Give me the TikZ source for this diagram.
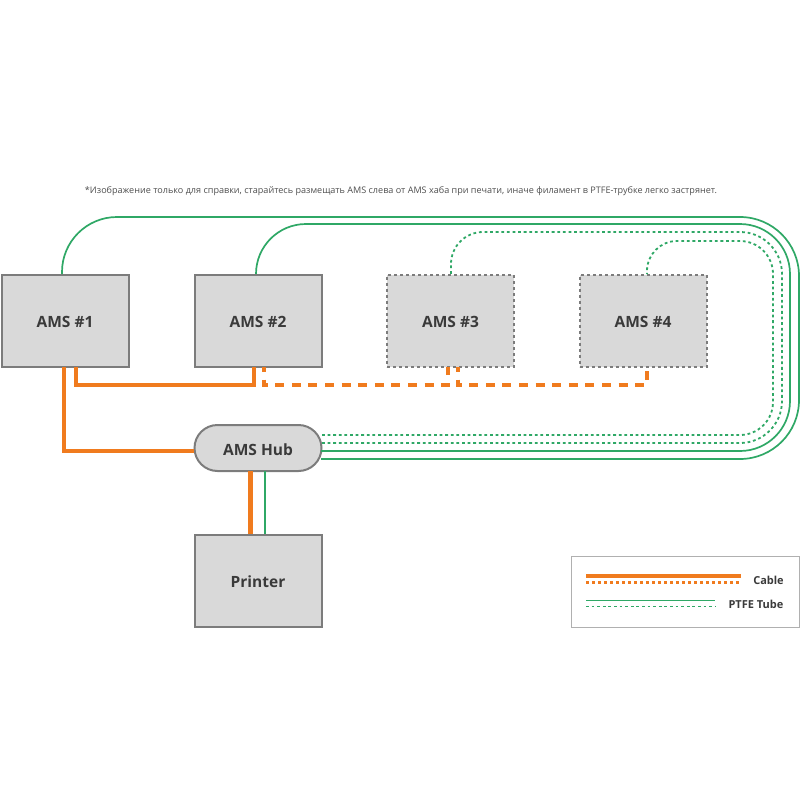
\documentclass[tikz,border=0pt]{standalone}
\usepackage{fontspec}
\setmainfont{Open Sans}
\definecolor{cableorange}{HTML}{F07B1E}
\definecolor{tubegreen}{HTML}{2FA866}
\definecolor{boxgray}{HTML}{D9D9D9}
\definecolor{edgegray}{HTML}{7C7C7C}
\definecolor{textgray}{HTML}{3A3A3A}
\tikzset{
  amsbox/.style={draw=edgegray, fill=boxgray, line width=2pt, minimum width=127pt, minimum height=92pt, inner sep=0pt, text=textgray, text height=14pt, text depth=0pt, font=\fontsize{15.5}{18}\selectfont\bfseries},
  amsdash/.style={amsbox, dash pattern=on 3pt off 3pt},
  cable/.style={draw=cableorange, line width=4.6pt},
  cabledash/.style={cable, dash pattern=on 9pt off 7.6pt, dash phase=4pt},
  tube/.style={draw=tubegreen, line width=1.7pt},
  tubedash/.style={tube, line width=1.8pt, dash pattern=on 2.8pt off 2.8pt},
  legendtext/.style={text=textgray, font=\fontsize{11}{13}\selectfont\bfseries, inner sep=0pt}
}
\begin{document}
\begin{tikzpicture}[x=1pt, y=-1pt]
  \useasboundingbox (0,0) rectangle (800,800);

  \node[text=textgray!90, font=\fontsize{9.07}{11}\selectfont, inner sep=0pt] (note) at (401,191) {*Изображение только для справки, старайтесь размещать AMS слева от AMS хаба при печати, иначе филамент в PTFE-трубке легко застрянет.};

  \node[amsbox] (ams1) at (65,320.5) {AMS \#1};
  \node[amsbox] (ams2) at (258,320.5) {AMS \#2};
  \node[amsdash] (ams3) at (450.5,320.5) {AMS \#3};
  \node[amsdash] (ams4) at (643,320.5) {AMS \#4};
  \node[amsbox, minimum height=46pt, rounded corners=23pt] (hub) at (258,448) {AMS Hub};
  \node[amsbox] (printer) at (258,580.5) {Printer};

  \coordinate (t1) at (62,274);
  \coordinate (t2) at (256,274);
  \coordinate (t3) at (451,274);
  \coordinate (t4) at (647,274);
  \coordinate (h0) at (194,451);
  \coordinate (h1) at (321,459);
  \coordinate (h2) at (321,451);
  \coordinate (h3) at (322,443);
  \coordinate (h4) at (322,435);

  \draw[tube, rounded corners=59pt] (h1) -- (799,459) -- (799,217) [rounded corners=55pt] -- (62,217) -- (t1);
  \draw[tube, rounded corners=50pt] (h2) -- (790,451) -- (790,224) -- (256,224) -- (t2);
  \draw[tubedash, rounded corners=42pt] (h3) -- (782,443) -- (782,232) [rounded corners=32pt] -- (451,232) -- (t3);
  \draw[tubedash, rounded corners=33pt] (h4) -- (773,435) -- (773,241) [rounded corners=30pt] -- (647,241) -- (t4);

  \coordinate (c1) at (64,367);
  \coordinate (c2) at (76,367);
  \coordinate (c3) at (254,367);
  \coordinate (c4) at (264,367);
  \coordinate (c5) at (448,367);
  \coordinate (c6) at (458,367);
  \coordinate (c7) at (647,367);
  \coordinate (p1) at (250.5,471);
  \coordinate (p2) at (265,471);

  \draw[cable] (c1) |- (h0);
  \draw[cable] (c2) |- (254,385) -- (c3);
  \draw[cabledash] (c4) |- (448,385) -- (c5);
  \draw[cabledash] (c6) |- (647,385) -- (c7);
  \draw[cable] (p1) -- (p1 |- printer.north);
  \draw[tube] (p2) -- (p2 |- printer.north);

  \node[draw=edgegray!60, line width=1pt, minimum width=228pt, minimum height=71pt, inner sep=0pt] (legend) at (685,591.5) {};
  \coordinate (l1) at (586,576);
  \coordinate (l2) at (586,582.5);
  \coordinate (l3) at (586,600.5);
  \coordinate (l4) at (586,606.5);
  \draw[cable] (l1) -- (741,576);
  \draw[cable, line width=3.5pt, dash pattern=on 3.4pt off 2.6pt] (l2) -- (741,582.5);
  \draw[tube] (l3) -- (715,600.5);
  \draw[tubedash] (l4) -- (715,606.5);
  \node[legendtext] (cablelabel) at (768.5,580) {Cable};
  \node[legendtext] (tubelabel) at (756,604) {PTFE Tube};
\end{tikzpicture}
\end{document}
